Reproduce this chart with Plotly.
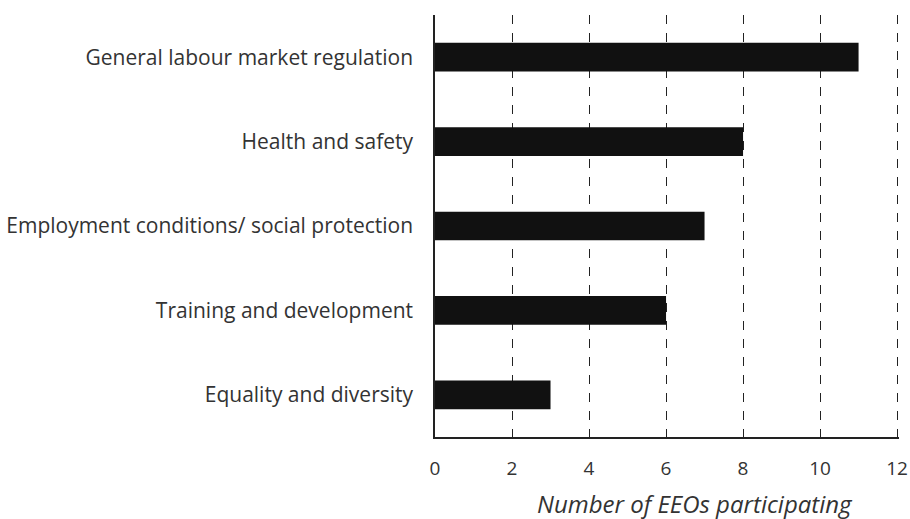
import plotly.graph_objects as go

categories = ["General labour market regulation", "Health and safety",
              "Employment conditions/ social protection", "Training and development",
              "Equality and diversity"]
values = [11, 8, 7, 6, 3]
x_ticks = [0, 2, 4, 6, 8, 10, 12]
x_title = "Number of EEOs participating"

fig = go.Figure()
fig.add_trace(go.Bar(y=categories, x=values, orientation="h",
                     marker=dict(color="#111111", line=dict(width=0)),
                     width=0.34))

fig.update_layout(
    width=910, height=519,
    margin=dict(l=435, r=11, t=15, b=82),
    paper_bgcolor="white", plot_bgcolor="white",
    font=dict(family="Open Sans, sans-serif", size=21, color="#333333"),
    showlegend=False,
    bargap=0.66,
)
fig.update_xaxes(range=[0, 12.05], tickvals=x_ticks, ticktext=[str(t) for t in x_ticks],
                 showgrid=True, gridcolor="#222222", griddash="dash", gridwidth=1,
                 showline=True, linecolor="#222222", linewidth=1.5, mirror=False,
                 zeroline=False, ticks="", ticklabelstandoff=13, automargin=False,
                 tickfont=dict(size=19))
fig.update_yaxes(categoryorder="array", categoryarray=categories[::-1],
                 showline=True, linecolor="#222222", linewidth=1.5,
                 showgrid=False, ticks="", ticklabelstandoff=16, automargin=False)

fig.add_annotation(text="<i>" + x_title + "</i>", xref="paper", yref="paper",
                   x=0.56, y=0, xanchor="center", yanchor="middle", yshift=-66,
                   showarrow=False, font=dict(size=24, color="#333333"))

fig.write_html("out.html", config={"displayModeBar": False},
               post_script="document.body.style.margin='0';document.body.style.overflow='hidden';")
